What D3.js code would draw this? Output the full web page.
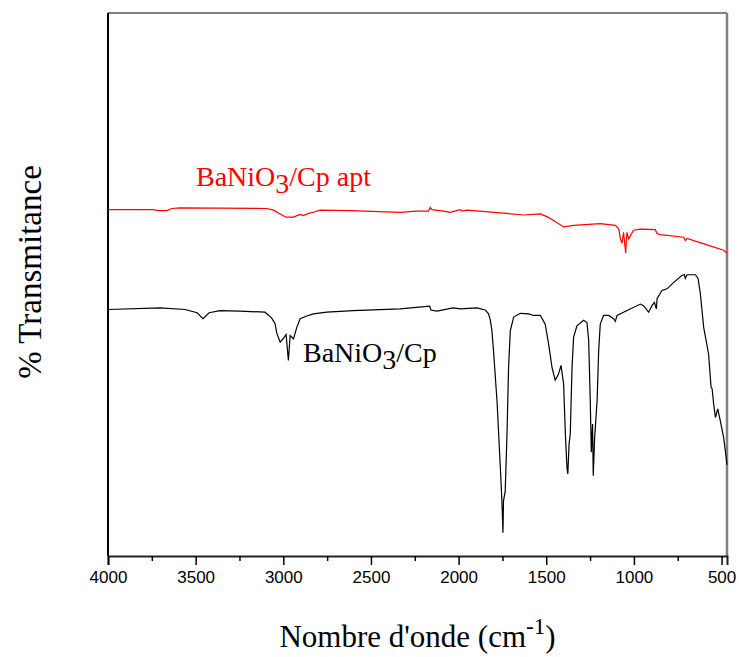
<!DOCTYPE html>
<html>
<head>
<meta charset="utf-8">
<script src="https://cdn.jsdelivr.net/npm/d3@7"></script>
<style>
  body { margin: 0; background: #fff; }
  #chart { width: 739px; height: 657px; }
</style>
</head>
<body>
<div id="chart"></div>
<script>
"use strict"

// wavenumber (cm-1) / transmittance (arbitrary, offset)
const cpWave = [4000, 3703, 3560, 3492, 3458, 3423, 3361, 3247, 3104, 3066, 3047, 3037, 3018, 2999, 2984, 2971, 2961, 2942, 2923, 2904, 2866, 2828, 2752, 2601, 2333, 2165, 2158, 2124, 2031, 1991, 1895, 1848, 1829, 1819, 1810, 1801, 1781, 1762, 1753, 1747, 1744, 1734, 1724, 1715, 1705, 1686, 1648, 1601, 1572, 1534, 1506, 1487, 1467, 1449, 1430, 1416, 1401, 1391, 1382, 1377, 1370, 1363, 1353, 1344, 1325, 1287, 1268, 1258, 1249, 1243, 1236, 1232, 1224, 1210, 1201, 1192, 1173, 1144, 1116, 1106, 1096, 1039, 963, 945, 916, 897, 883, 872, 868, 840, 811, 773, 725, 712, 707, 697, 649, 634, 621, 602, 574, 560, 554, 545, 535, 522, 511, 488, 469]
const cpTrans = [45.4, 45.7, 45.4, 44.8, 43.7, 44.8, 45.2, 45.1, 44.9, 43.8, 42.8, 41.0, 39.4, 40.1, 40.8, 36.0, 40.6, 40.0, 42.1, 43.7, 44.2, 44.6, 44.9, 45.2, 45.5, 46.0, 45.3, 45.1, 45.7, 45.5, 45.7, 45.3, 44.6, 43.4, 41.5, 37.8, 28.6, 16.3, 10.1, 4.3, 10.1, 12.0, 22.5, 34.7, 41.5, 44.0, 44.7, 44.6, 44.3, 44.3, 42.7, 39.1, 34.7, 32.4, 33.5, 35.1, 31.7, 22.5, 16.3, 15.1, 20.6, 22.5, 34.7, 40.3, 42.4, 43.4, 43.0, 39.7, 28.6, 19.1, 24.3, 14.8, 21.8, 28.6, 37.8, 42.7, 44.3, 44.3, 43.7, 43.2, 44.3, 45.2, 46.4, 46.1, 44.9, 46.1, 46.7, 45.5, 47.4, 48.9, 49.2, 50.4, 51.7, 51.8, 51.1, 51.8, 51.8, 51.1, 48.3, 42.1, 37.2, 31.1, 30.8, 28.0, 25.5, 27.1, 25.5, 21.8, 16.8]

const aptWave = [4000, 3741, 3713, 3665, 3636, 3589, 3094, 3056, 3018, 2984, 2942, 2904, 2885, 2857, 2828, 2790, 2619, 2333, 2238, 2172, 2162, 2152, 2086, 2048, 1991, 1981, 1952, 1762, 1629, 1534, 1496, 1458, 1401, 1344, 1192, 1106, 1087, 1077, 1068, 1059, 1047, 1040, 1030, 1002, 963, 878, 868, 849, 716, 707, 697, 583, 488, 469]
const aptTrans = [63.8, 63.8, 63.6, 63.6, 64.0, 64.1, 64.0, 63.7, 63.0, 62.4, 62.4, 62.9, 62.7, 63.1, 63.3, 63.7, 63.6, 63.3, 63.5, 63.5, 64.2, 63.8, 63.5, 63.3, 63.8, 63.5, 63.7, 63.2, 62.8, 63.0, 62.5, 61.8, 60.6, 60.9, 61.2, 60.9, 60.3, 58.4, 57.6, 59.6, 55.8, 59.6, 58.4, 60.0, 60.2, 60.1, 59.4, 59.2, 58.7, 58.1, 58.5, 57.3, 56.3, 55.8]

const majorTicks = [4000, 3500, 3000, 2500, 2000, 1500, 1000, 500]
const minorTicks = [3750, 3250, 2750, 2250, 1750, 1250, 750]

const margin = {top: 13, right: 12, bottom: 101, left: 108},
  width = 739 - margin.left - margin.right,
  height = 657 - margin.top - margin.bottom;

const svg = d3.select("#chart")
.append("svg")
  .attr("width", 739)
  .attr("height", 657)
.append("g")
  .attr("transform", "translate(" + margin.left + "," + margin.top + ")");

const x = d3.scaleLinear().domain([4000, 469]).range([0, width])
const y = d3.scaleLinear().domain([0, 100]).range([height, 0])

// frame: top & right grey, left & bottom black
svg.append("line").attr("x1", 0).attr("x2", width).attr("y1", 0).attr("y2", 0)
  .style("stroke", "#808080").style("stroke-width", 2)
svg.append("line").attr("x1", width).attr("x2", width).attr("y1", 0).attr("y2", height)
  .style("stroke", "#808080").style("stroke-width", 2.5)
svg.append("line").attr("x1", 0).attr("x2", 0).attr("y1", 0).attr("y2", height)
  .style("stroke", "#000").style("stroke-width", 2)

// x axis, major + minor ticks
const xAxis = svg.append("g")
  .attr("transform", "translate(0," + height + ")")
  .call(d3.axisBottom(x).tickValues(majorTicks).tickSize(9).tickPadding(6)
    .tickFormat(d3.format("d")))
xAxis.select(".domain").style("stroke", "#222").style("stroke-width", 2)
xAxis.selectAll(".tick line").style("stroke-width", 1.5)
xAxis.selectAll(".tick text")
  .style("font-family", "'Liberation Sans', Arial, sans-serif")
  .style("font-size", "17px")
  .style("fill", "#000")
svg.append("g")
  .attr("transform", "translate(0," + height + ")")
  .call(d3.axisBottom(x).tickValues(minorTicks).tickSize(5).tickFormat(""))
  .call(g => g.select(".domain").remove())
  .selectAll(".tick line").style("stroke-width", 1.5)

// spectra
const line = d3.line()
  .x(d => x(d[0]))
  .y(d => y(d[1]))

svg.append("path")
  .datum(aptWave.map((w, i) => [w, aptTrans[i]]))
  .attr("d", line)
  .style("fill", "none")
  .style("stroke", "#ff0000")
  .style("stroke-width", 1.2)

svg.append("path")
  .datum(cpWave.map((w, i) => [w, cpTrans[i]]))
  .attr("d", line)
  .style("fill", "none")
  .style("stroke", "#000")
  .style("stroke-width", 1.2)

// labels
const serif = "'Liberation Serif', 'Times New Roman', serif"

const t1 = svg.append("text")
  .attr("x", 196 - margin.left)
  .attr("y", 186 - margin.top)
  .style("font-family", serif)
  .style("font-size", "28px")
  .style("fill", "#ff0000")
t1.append("tspan").text("BaNiO")
t1.append("tspan").attr("dy", 7).text("3")
t1.append("tspan").attr("dy", -7).text("/Cp apt")

const t2 = svg.append("text")
  .attr("x", 303 - margin.left)
  .attr("y", 362 - margin.top)
  .style("font-family", serif)
  .style("font-size", "28px")
  .style("fill", "#000")
t2.append("tspan").text("BaNiO")
t2.append("tspan").attr("dy", 7).text("3")
t2.append("tspan").attr("dy", -7).text("/Cp")

const xt = svg.append("text")
  .attr("x", width / 2)
  .attr("y", 647 - margin.top)
  .attr("text-anchor", "middle")
  .style("font-family", serif)
  .style("font-size", "31px")
xt.append("tspan").text("Nombre d'onde (cm")
xt.append("tspan").attr("dy", -13).style("font-size", "23px").text("-1")
xt.append("tspan").attr("dy", 13).text(")")

svg.append("text")
  .attr("transform", "translate(" + (41 - margin.left) + "," + (272 - margin.top) + ") rotate(-90)")
  .attr("text-anchor", "middle")
  .style("font-family", serif)
  .style("font-size", "33px")
  .text("% Transmitance")
</script>
</body>
</html>
